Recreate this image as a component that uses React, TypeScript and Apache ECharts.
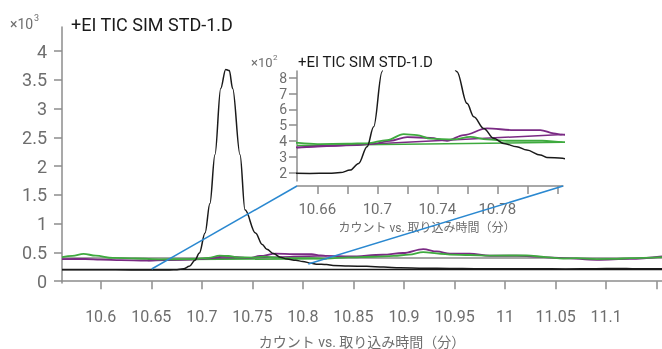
import React, { useEffect, useRef } from "react";
import * as echarts from "echarts";

// ---- data (counts) ----
const ticBlack: number[][] = [
  [10.5617, 200], [10.6, 199], [10.63, 197], [10.655, 196], [10.668, 197],
  [10.6755, 201], [10.682, 217], [10.6876, 259], [10.6932, 364], [10.6976, 490],
  [10.7032, 838], [10.708, 1350], [10.713, 2200], [10.7187, 3350], [10.7236, 3680],
  [10.7272, 3660], [10.7305, 3350], [10.7378, 2200], [10.7427, 1240], [10.7531, 838],
  [10.7598, 638], [10.7643, 554], [10.771, 480], [10.7776, 417], [10.7843, 385],
  [10.793, 364], [10.7997, 343], [10.8087, 312], [10.813, 297], [10.8235, 291],
  [10.8298, 275], [10.845, 265], [10.8631, 258], [10.88, 245], [10.896, 232],
  [10.92, 225], [10.945, 222], [10.97, 218], [11.0, 216], [11.03, 218],
  [11.06, 214], [11.09, 218], [11.11, 222], [11.13, 216], [11.1552, 215],
];

const greenWave: number[][] = [
  [10.5617, 420], [10.572, 440], [10.583, 475], [10.595, 445], [10.612, 405],
  [10.635, 395], [10.66, 381], [10.68, 383], [10.6932, 386], [10.7065, 406],
  [10.7176, 444], [10.7265, 438], [10.7354, 415], [10.751, 410], [10.762, 427],
  [10.7731, 410], [10.7865, 402], [10.81, 402], [10.8235, 393], [10.845, 415],
  [10.87, 425], [10.89, 440], [10.905, 462], [10.919, 505], [10.936, 477],
  [10.9455, 462], [10.965, 456], [10.985, 445], [11.0213, 448], [11.04, 420],
  [11.0576, 395], [11.0708, 400], [11.0906, 385], [11.1104, 390], [11.1235, 400],
  [11.1552, 420],
];

const purpleWave: number[][] = [
  [10.5617, 385], [10.585, 386], [10.6, 376], [10.62, 366], [10.645, 360],
  [10.664, 369], [10.6865, 375], [10.6976, 383], [10.7087, 402], [10.72, 425],
  [10.7354, 420], [10.7465, 402], [10.7576, 438], [10.7731, 480], [10.7909, 469],
  [10.8087, 469], [10.8176, 449], [10.8235, 440], [10.8466, 430], [10.879, 460],
  [10.899, 490], [10.919, 559], [10.9325, 517], [10.9455, 477], [10.965, 477],
  [10.985, 443], [11.0115, 443], [11.0576, 403], [11.0906, 373], [11.1235, 390],
  [11.1552, 430],
];

const purpleBase: number[][] = [[10.6465, 358], [10.8235, 442]];
const greenBase: number[][] = [[10.6465, 372], [10.8235, 392]];
const grayFlat: number[][] = [[10.5617, 403], [11.1552, 403]];
const blackFlat: number[][] = [[10.5617, 205], [11.1552, 205]];

// zoom anchors on the main trace (x, counts)
const zoomAnchors: number[][] = [[10.6504, 212], [10.8053, 299]];

// axis ranges / ticks
const mainXRange = [10.5617, 11.1552];
const mainYRange = [-31, 4418];
const insetXRange = [10.6465, 10.8238];
const insetYRange = [148, 842];
const mainXTicks = [10.6, 10.65, 10.7, 10.75, 10.8, 10.85, 10.9, 10.95, 11, 11.05, 11.1, 11.15];
const mainXLabels = [10.6, 10.65, 10.7, 10.75, 10.8, 10.85, 10.9, 10.95, 11, 11.05, 11.1];
const mainYTicks = [0, 500, 1000, 1500, 2000, 2500, 3000, 3500, 4000];
const insetXTicks = [10.66, 10.68, 10.7, 10.72, 10.74, 10.76, 10.78, 10.8, 10.82];
const insetXLabels = [10.66, 10.7, 10.74, 10.78];
const insetYTicks = [200, 300, 400, 500, 600, 700, 800];

const TITLE = "+EI TIC SIM STD-1.D";
const XNAME = "カウント vs. 取り込み時間（分）";

const FONT = "Roboto, 'Noto Sans CJK JP', sans-serif";
const AXIS = "#8c8c8c";
const LABEL = "#6e6e6e";
const BLACK = "#1a1a1a";
const GREEN = "#3faa3f";
const PURPLE = "#7a2a84";
const BLUE = "#2a88d0";

const fmtX = (v: number) => String(+v.toFixed(2));

export default function App() {
  const ref = useRef<HTMLDivElement>(null);
  useEffect(() => {
    if (!ref.current) return;
    const chart = echarts.init(ref.current, undefined, { renderer: "svg" });
    const line = (data: number[][], color: string, width: number, idx: number, z = 2) => ({
      type: "line",
      data,
      xAxisIndex: idx,
      yAxisIndex: idx,
      showSymbol: false,
      symbol: "none",
      smooth: 0.35,
      smoothMonotone: "x",
      lineStyle: { color, width },
      z,
      silent: true,
    });
    const xAxisBase = (range: number[], ticks: number[], labels: number[], offset: number, fs: number, margin: number, grid: number) => ({
      type: "value",
      gridIndex: grid,
      min: range[0],
      max: range[1],
      offset,
      splitLine: { show: false },
      axisLine: { show: true, lineStyle: { color: AXIS, width: 1.5 } },
      axisTick: { show: true, length: 8, lineStyle: { color: AXIS, width: 1.5 }, customValues: ticks },
      axisLabel: { show: true, customValues: labels, formatter: fmtX, color: LABEL, fontSize: fs, fontFamily: FONT, margin },
    });
    const yAxisBase = (range: number[], ticks: number[], div: number, fs: number, margin: number, grid: number, len: number) => ({
      type: "value",
      gridIndex: grid,
      min: range[0],
      max: range[1],
      splitLine: { show: false },
      axisLine: { show: true, lineStyle: { color: AXIS, width: 1.5 } },
      axisTick: { show: true, length: len, lineStyle: { color: AXIS, width: 1.5 }, customValues: ticks },
      axisLabel: { show: true, customValues: ticks, formatter: (v: number) => String(+(v / div).toFixed(2)), color: LABEL, fontSize: fs, fontFamily: FONT, margin },
    });
    chart.setOption({
      animation: false,
      grid: [
        { left: 62, top: 27, width: 600, height: 256 },
        { left: 297, top: 71, width: 266, height: 110 },
      ],
      xAxis: [
        xAxisBase(mainXRange, mainXTicks, mainXLabels, 9, 16, 16, 0),
        xAxisBase(insetXRange, insetXTicks, insetXLabels, 5, 15, 15, 1),
      ],
      yAxis: [
        yAxisBase(mainYRange, mainYTicks, 1000, 18, 15, 0, 8),
        yAxisBase(insetYRange, insetYTicks, 100, 14, 10, 1, 8),
      ],
      series: [
        line(blackFlat, BLACK, 1.5, 0),
        line(grayFlat, "#8a8a8a", 1.5, 0),
        line(purpleBase, PURPLE, 1.5, 0),
        line(greenBase, GREEN, 1.5, 0),
        line(purpleWave, PURPLE, 1.8, 0),
        line(greenWave, GREEN, 1.8, 0),
        line(ticBlack, BLACK, 1.5, 0),
        line(purpleBase, PURPLE, 1.5, 1),
        line(greenBase, GREEN, 1.5, 1),
        line(purpleWave, PURPLE, 1.8, 1),
        line(greenWave, GREEN, 1.8, 1),
        line(ticBlack, BLACK, 1.5, 1),
      ],
    });
    // connector lines from main-trace anchors to inset axis ends
    const p0 = chart.convertToPixel({ xAxisIndex: 0, yAxisIndex: 0 }, zoomAnchors[0]) as number[];
    const p1 = chart.convertToPixel({ xAxisIndex: 0, yAxisIndex: 0 }, zoomAnchors[1]) as number[];
    const c0 = chart.convertToPixel({ xAxisIndex: 1, yAxisIndex: 1 }, [insetXRange[0], insetYRange[0]]) as number[];
    const c1 = chart.convertToPixel({ xAxisIndex: 1, yAxisIndex: 1 }, [insetXRange[1], insetYRange[0]]) as number[];
    const txt = (x: number, y: number, text: string, fs: number, fill: string, align = "left") => ({
      type: "text",
      x,
      y,
      silent: true,
      style: { text, fontSize: fs, fill, fontFamily: FONT, align, verticalAlign: "middle" },
    });
    chart.setOption({
      graphic: [
        { type: "line", silent: true, z: 10, shape: { x1: p0[0], y1: p0[1], x2: c0[0], y2: c0[1] + 5 }, style: { stroke: BLUE, lineWidth: 1.5 } },
        { type: "line", silent: true, z: 10, shape: { x1: p1[0], y1: p1[1], x2: c1[0], y2: c1[1] + 5 }, style: { stroke: BLUE, lineWidth: 1.5 } },
        txt(10, 24, "×10", 14, LABEL),
        txt(34, 18, "3", 9, LABEL),
        txt(71, 24, TITLE, 18, BLACK),
        txt(362, 342, XNAME, 14, LABEL, "center"),
        txt(251, 62, "×10", 13, LABEL),
        txt(273, 57, "2", 8, LABEL),
        txt(298, 62, TITLE, 15, BLACK),
        txt(427, 228, XNAME, 12, LABEL, "center"),
      ],
    });
    return () => chart.dispose();
  }, []);
  return <div ref={ref} style={{ position: "fixed", left: 0, top: 0, width: 662, height: 349 }} />;
}
